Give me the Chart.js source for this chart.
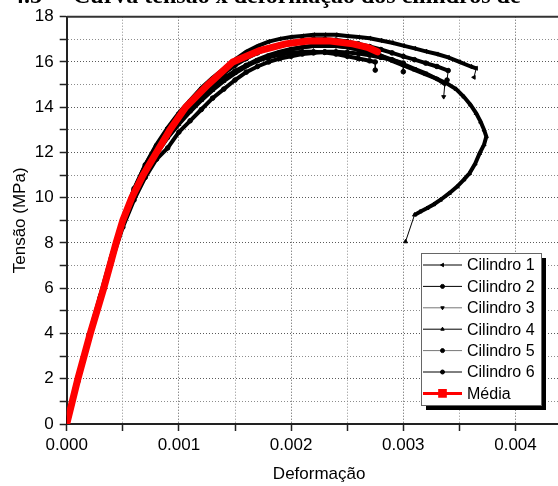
<!DOCTYPE html>
<html>
<head>
<meta charset="utf-8">
<script src="https://cdn.jsdelivr.net/npm/chart.js@4.4.0/dist/chart.umd.min.js"></script>
<style>
  html, body { margin: 0; padding: 0; background: #fff; overflow: hidden; }
  #grafico { display: block; }
</style>
</head>
<body>
<canvas id="grafico" width="600" height="486"></canvas>
<script>
// deformação lida a cada 0.0001 ao longo das curvas
const passo = [0, 0.0001, 0.0002, 0.0003, 0.0004, 0.0005, 0.0006, 0.0007, 0.0008, 0.0009,
  0.0010, 0.0011, 0.0012, 0.0013, 0.0014, 0.0015, 0.0016, 0.0017, 0.0018, 0.0019,
  0.0020, 0.0021, 0.0022, 0.0023, 0.0024, 0.0025, 0.0026, 0.0027, 0.0028, 0.0029,
  0.0030, 0.0031, 0.0032, 0.0033, 0.0034, 0.0035, 0.0036];

// tensões (MPa) de cada cilindro
const defCil1 = passo.slice(0, 37).concat([0.00365, 0.00363]);
const tenCil1 = [0, 2.0, 3.95, 5.7, 7.45, 9.05, 10.35, 11.45, 12.35, 13.1, 13.75, 14.3, 14.85, 15.3, 15.7,
  16.1, 16.45, 16.7, 16.9, 17.02, 17.1, 17.15, 17.2, 17.2, 17.2, 17.15, 17.1, 17.05, 16.95, 16.85,
  16.72, 16.6, 16.47, 16.35, 16.2, 16.0, 15.8, 15.72, 15.32];

const defCil2 = passo.slice(0, 35).concat([0.00339]);
const tenCil2 = [0, 2.0, 3.9, 5.6, 7.35, 9.0, 10.4, 11.45, 12.3, 13.0, 13.6, 14.15, 14.65, 15.1, 15.5,
  15.85, 16.15, 16.4, 16.6, 16.75, 16.87, 16.95, 17.0, 17.0, 16.97, 16.9, 16.8, 16.68, 16.55, 16.4,
  16.25, 16.1, 15.95, 15.8, 15.62, 15.2];

const defCil3 = passo.slice(0, 34).concat([0.00337, 0.00336]);
const tenCil3 = [0, 1.95, 3.85, 5.55, 7.3, 8.9, 10.2, 11.2, 12.0, 12.7, 13.3, 13.85, 14.35, 14.8, 15.2,
  15.55, 15.85, 16.1, 16.3, 16.45, 16.57, 16.65, 16.7, 16.72, 16.7, 16.65, 16.55, 16.42, 16.28, 16.1,
  15.9, 15.7, 15.5, 15.25, 15.02, 14.46];

const defCil4 = passo.slice(0, 34).concat([0.00339, 0.00347, 0.00354, 0.0036, 0.00365, 0.00369, 0.00372,
  0.00374, 0.00372, 0.00368, 0.00364, 0.00359, 0.00354, 0.00348, 0.00341, 0.00333, 0.00327, 0.00321,
  0.00315, 0.0031, 0.00302]);
const tenCil4 = [0, 1.9, 3.8, 5.55, 7.25, 8.8, 10.05, 11.1, 11.95, 12.65, 13.25, 13.8, 14.3, 14.75, 15.15,
  15.5, 15.8, 16.05, 16.25, 16.42, 16.55, 16.65, 16.72, 16.75, 16.72, 16.65, 16.55, 16.42, 16.27, 16.05,
  15.85, 15.65, 15.45, 15.25, 15.05, 14.8, 14.46, 14.1, 13.73, 13.35, 13.0, 12.7, 12.35, 11.96, 11.5,
  11.08, 10.8, 10.49, 10.2, 9.9, 9.7, 9.53, 9.38, 9.24, 8.06];

const defCil5 = passo.slice(0, 28).concat([0.00275, 0.00275]);
const tenCil5 = [0, 2.0, 3.9, 5.55, 7.3, 8.95, 10.3, 11.3, 12.1, 12.8, 13.4, 13.95, 14.45, 14.9, 15.3,
  15.6, 15.85, 16.05, 16.2, 16.32, 16.4, 16.45, 16.45, 16.42, 16.35, 16.25, 16.15, 16.05, 16.0, 15.64];

const defCil6 = passo.slice(0, 31).concat([0.0030]);
const tenCil6 = [0, 1.9, 3.8, 5.5, 7.2, 8.7, 9.9, 10.9, 11.7, 12.2, 12.9, 13.4, 13.9, 14.4, 14.8,
  15.2, 15.55, 15.8, 16.0, 16.15, 16.25, 16.35, 16.4, 16.45, 16.45, 16.42, 16.37, 16.3, 16.2, 16.1,
  15.95, 15.57];

// curva média
const defMedia = [0, 0.0001, 0.00021, 0.00033, 0.00044, 0.0005, 0.00058, 0.00068, 0.0008, 0.00092,
  0.00106, 0.00126, 0.00148, 0.00172, 0.00195, 0.00215, 0.00235, 0.00255, 0.00268, 0.00277];
const tenMedia = [0, 2, 4, 6, 8, 9, 10, 11, 12, 13, 14, 15, 16, 16.5, 16.8, 16.93, 16.93, 16.8, 16.65, 16.45];

const nomes = ['Cilindro 1', 'Cilindro 2', 'Cilindro 3', 'Cilindro 4', 'Cilindro 5', 'Cilindro 6', 'Média'];

function pontos(xs, ys) {
  return xs.map((x, i) => ({ x: x, y: ys[i] }));
}

const fonte = "'Liberation Sans', Arial, sans-serif";

// cilindro: linha preta grossa e trecho final fino (queda após ruptura)
function cilindro(nome, xs, ys, estilo, rot, corLeg) {
  const ultimo = xs.length - 1;
  return {
    label: nome,
    data: pontos(xs, ys),
    showLine: true,
    borderColor: '#000',
    backgroundColor: '#000',
    borderWidth: 4,
    pointRadius: 2.3,
    pointStyle: estilo,
    pointRotation: rot,
    pointBorderWidth: 1,
    corLegenda: corLeg,
    order: 1,
    segment: {
      borderWidth: ctx => ctx.p1DataIndex === ultimo ? 1 : 4
    }
  };
}

const conjuntos = [
  cilindro(nomes[0], defCil1, tenCil1, 'triangle', -90, '#000'),
  cilindro(nomes[1], defCil2, tenCil2, 'circle', 0, '#000'),
  cilindro(nomes[2], defCil3, tenCil3, 'triangle', 180, '#777'),
  cilindro(nomes[3], defCil4, tenCil4, 'triangle', 0, '#000'),
  cilindro(nomes[4], defCil5, tenCil5, 'circle', 0, '#777'),
  cilindro(nomes[5], defCil6, tenCil6, 'circle', 0, '#000'),
  {
    label: nomes[6],
    data: pontos(defMedia, tenMedia),
    showLine: true,
    borderColor: '#ff0000',
    backgroundColor: '#ff0000',
    borderWidth: 7,
    borderCapStyle: 'round',
    pointRadius: 0,
    pointStyle: 'rect',
    corLegenda: '#ff0000',
    order: 0
  }
];

// cabeçalho cortado, moldura superior e legenda com sombra
const extras = {
  id: 'extras',
  afterDraw(chart) {
    const ctx = chart.ctx;
    const area = chart.chartArea;
    ctx.save();
    ctx.fillStyle = '#000';
    ctx.font = "bold 24px 'Liberation Serif', 'Times New Roman', serif";
    ctx.textBaseline = 'alphabetic';
    ctx.fillText('4.5', 12, 3);
    ctx.fillText('Curva tensão x deformação dos cilindros de', 73, 3);

    ctx.strokeStyle = '#333';
    ctx.lineWidth = 2;
    ctx.beginPath();
    ctx.moveTo(area.left, area.top);
    ctx.lineTo(chart.width, area.top);
    ctx.stroke();

    const x0 = 421, y0 = 253, w = 120, h = 152;
    ctx.fillStyle = '#000';
    ctx.fillRect(x0 + 5, y0 + 5, w, h);
    ctx.fillStyle = '#fff';
    ctx.fillRect(x0, y0, w, h);
    ctx.strokeStyle = '#666';
    ctx.lineWidth = 1;
    ctx.strokeRect(x0 + 0.5, y0 + 0.5, w, h);

    ctx.font = '16px ' + fonte;
    ctx.textBaseline = 'middle';
    chart.data.datasets.forEach((ds, i) => {
      const y = 265 + i * 21.4;
      const media = i === 6;
      ctx.strokeStyle = ds.corLegenda;
      ctx.lineWidth = media ? 3 : 1;
      ctx.beginPath();
      ctx.moveTo(423, y);
      ctx.lineTo(462, y);
      ctx.stroke();
      ctx.fillStyle = ds.backgroundColor;
      ctx.strokeStyle = ds.backgroundColor;
      Chart.helpers.drawPoint(ctx, {
        pointStyle: ds.pointStyle,
        rotation: ds.pointRotation || 0,
        radius: media ? 4 : 2,
        borderWidth: 1
      }, 442.5, y);
      ctx.fillStyle = '#000';
      ctx.fillText(ds.label, 467, y + 1);
    });
    ctx.restore();
  }
};

function ehMultiplo(v, passoTick) {
  const q = v / passoTick;
  return Math.abs(q - Math.round(q)) < 1e-6;
}

new Chart(document.getElementById('grafico'), {
  type: 'scatter',
  data: { datasets: conjuntos },
  plugins: [extras],
  options: {
    responsive: false,
    animation: false,
    layout: { padding: { top: 16.7, right: 28.4, left: 0, bottom: 0 } },
    plugins: { legend: { display: false }, tooltip: { enabled: false } },
    scales: {
      x: {
        type: 'linear',
        min: 0,
        max: 0.0045,
        afterFit: s => { s.height = 62; },
        ticks: {
          stepSize: 0.0005,
          autoSkip: false,
          maxRotation: 0,
          padding: 4,
          color: '#000',
          font: { family: fonte, size: 17 },
          callback: v => ehMultiplo(v, 0.001) ? v.toFixed(3) : ''
        },
        grid: {
          color: c => ehMultiplo(c.tick.value, 0.001) ? '#5a5a5a' : '#8c8c8c',
          lineWidth: 1,
          tickLength: 7,
          tickColor: '#222',
          tickWidth: 1.5
        },
        border: { color: '#222', width: 2, dash: [1, 2] },
        title: {
          display: true,
          text: 'Deformação',
          color: '#000',
          font: { family: fonte, size: 17 },
          padding: { top: 0, bottom: 1 }
        }
      },
      y: {
        type: 'linear',
        min: 0,
        max: 18,
        afterFit: s => { s.width = 66.7; },
        ticks: {
          stepSize: 1,
          autoSkip: false,
          padding: 6,
          color: '#000',
          font: { family: fonte, size: 17 },
          callback: v => v % 2 === 0 ? v : ''
        },
        grid: {
          color: c => c.tick.value % 2 === 0 ? '#5a5a5a' : '#8c8c8c',
          lineWidth: 1,
          tickLength: 7,
          tickColor: '#222',
          tickWidth: 1.5
        },
        border: { color: '#222', width: 2, dash: [1, 2] },
        title: {
          display: true,
          text: 'Tensão (MPa)',
          color: '#000',
          font: { family: fonte, size: 17 },
          padding: { top: 10, bottom: 0 }
        }
      }
    }
  }
});
</script>
</body>
</html>
